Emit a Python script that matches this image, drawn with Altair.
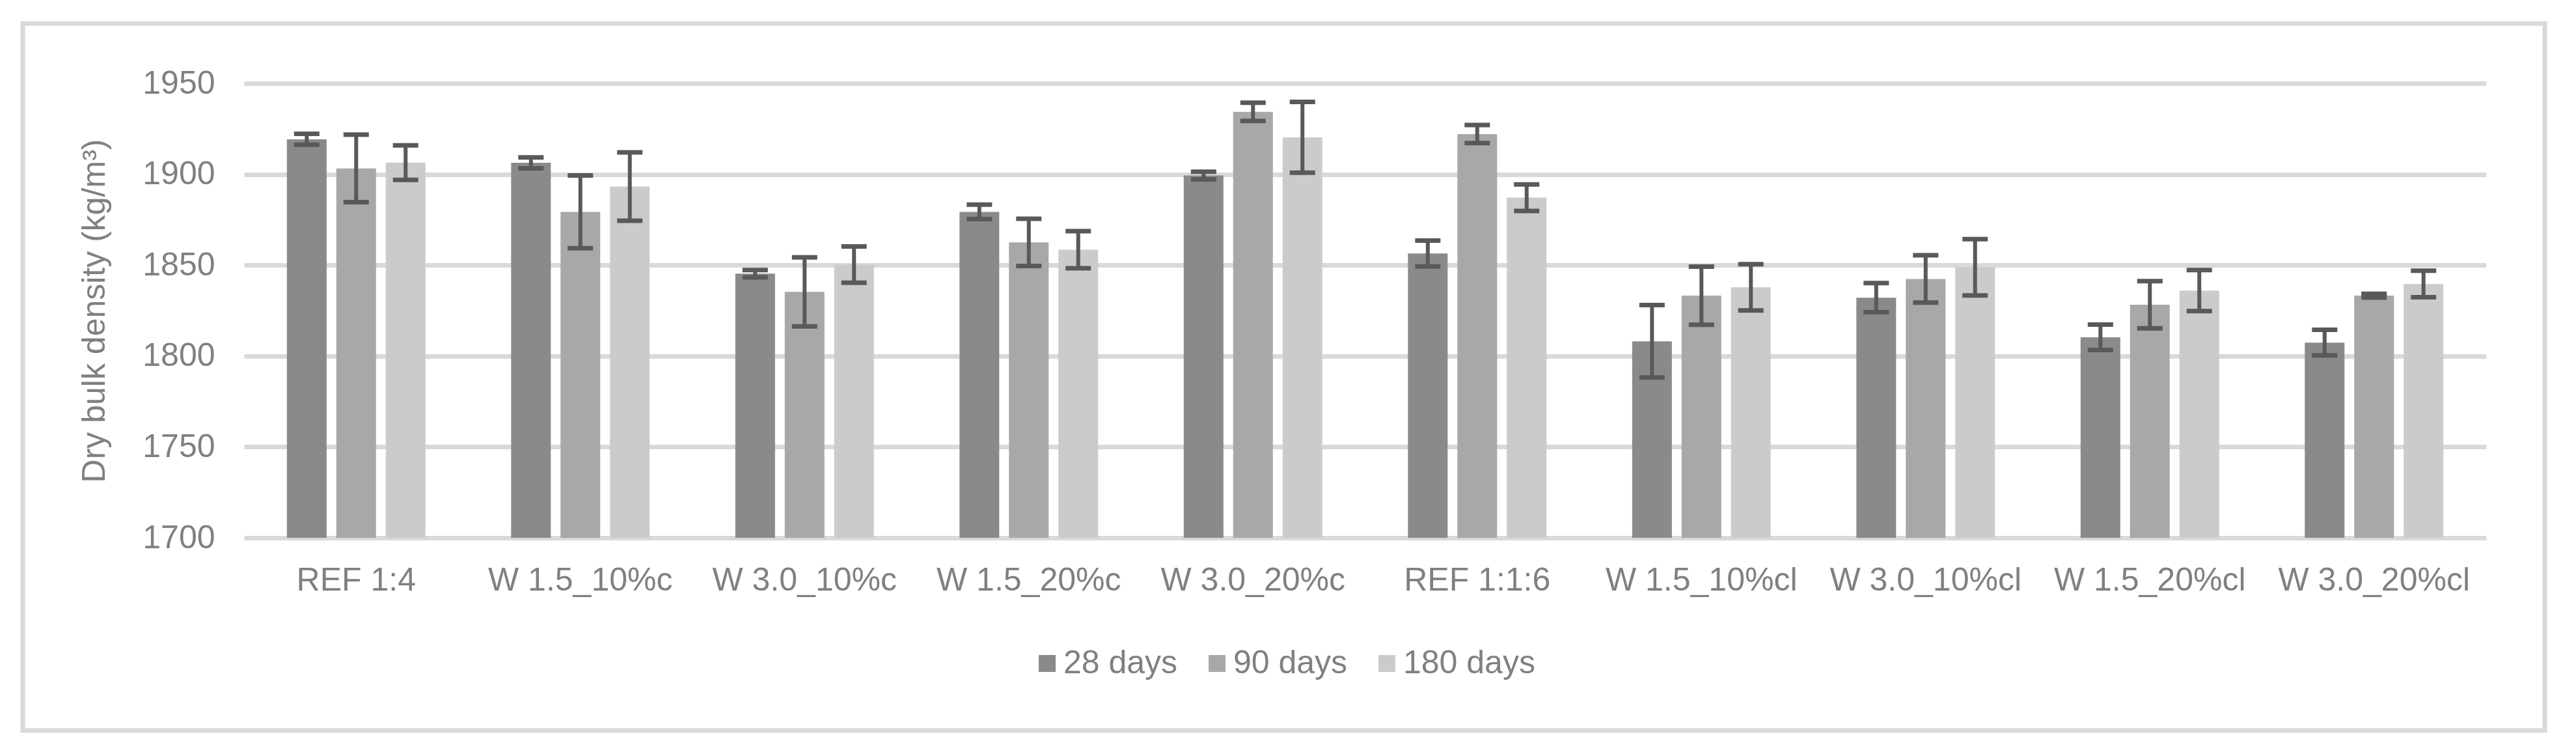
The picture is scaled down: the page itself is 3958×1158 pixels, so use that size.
import altair as alt
import pandas as pd

groups = ["REF 1:4", "W 1.5_10%c", "W 3.0_10%c", "W 1.5_20%c", "W 3.0_20%c",
          "REF 1:1:6", "W 1.5_10%cl", "W 3.0_10%cl", "W 1.5_20%cl", "W 3.0_20%cl"]
ages = ["28 days", "90 days", "180 days"]

mean_28 = [1919.2, 1906.3, 1845.3, 1879.3, 1899.3, 1856.4, 1808.1, 1832.1, 1810.3, 1807.4]
mean_90 = [1903.2, 1879.3, 1835.3, 1862.5, 1934.3, 1922.1, 1833.2, 1842.4, 1828.2, 1833.2]
mean_180 = [1906.4, 1893.2, 1850.3, 1858.5, 1920.3, 1887.1, 1837.8, 1848.8, 1836.0, 1839.6]

sd_28 = [3.0, 3.0, 2.0, 4.0, 2.1, 7.1, 19.9, 8.0, 7.0, 7.0]
sd_90 = [18.6, 20.0, 19.0, 13.0, 5.0, 5.0, 16.0, 13.0, 13.0, 1.0]
sd_180 = [9.5, 18.8, 10.0, 10.2, 19.5, 7.3, 12.7, 15.5, 11.3, 7.3]

colors = ["#8a8a8a", "#a8a8a8", "#cbcbcb"]

rows = []
for age, means, sds in zip(ages, [mean_28, mean_90, mean_180], [sd_28, sd_90, sd_180]):
    for g, m, s in zip(groups, means, sds):
        rows.append({"group": g, "age": age, "mean": m, "lo": m - s, "hi": m + s})
df = pd.DataFrame(rows)

FONT = "Liberation Sans"
TXT = "#808080"

x_enc = alt.X(
    "group:N", sort=groups,
    scale=alt.Scale(paddingInner=0.382, paddingOuter=0.191),
    axis=alt.Axis(title=None, labelFontSize=50, labelColor=TXT, labelFont=FONT,
                  labelAngle=0, ticks=False, tickSize=0, domain=False,
                  labelPadding=40, labelBaseline="top", labelLimit=0),
)
xo_enc = alt.XOffset("age:N", sort=ages, scale=alt.Scale(paddingInner=0.197, paddingOuter=0))

y_scale = alt.Scale(domain=[1700, 1950], nice=False, zero=False)

bars = alt.Chart(df).mark_bar().encode(
    x=x_enc,
    xOffset=xo_enc,
    y=alt.Y("mean:Q", scale=y_scale,
            axis=alt.Axis(values=[1700, 1750, 1800, 1850, 1900, 1950], format="d",
                          title="Dry bulk density (kg/m³)",
                          titleFontSize=50, titleFont=FONT, titleColor=TXT,
                          titleFontWeight="normal",
                          titleAngle=-90, titleX=-215, titleY=349,
                          titleBaseline="alphabetic", titleAlign="center",
                          titleLimit=0,
                          labelFontSize=50, labelFont=FONT, labelColor=TXT,
                          labelPadding=45, ticks=False, tickSize=0, domain=False,
                          labelLimit=0,
                          grid=True, gridColor="#d9d9d9", gridWidth=7)),
    y2=alt.datum(1700),
    color=alt.Color("age:N", sort=ages,
                    scale=alt.Scale(domain=ages, range=colors),
                    legend=alt.Legend(orient="none", legendX=1209, legendY=866,
                                      direction="horizontal", title=None,
                                      symbolType="square", symbolSize=676,
                                      symbolStrokeWidth=0, labelFontSize=50,
                                      labelColor=TXT, labelFont=FONT,
                                      columnPadding=35, labelOffset=0,
                                      labelLimit=0,
                                      padding=0, symbolOpacity=1)),
)

err = alt.Chart(df).mark_rule(color="#595959", strokeWidth=6).encode(
    x=alt.X("group:N", sort=groups),
    xOffset=alt.XOffset("age:N", sort=ages),
    y=alt.Y("lo:Q", scale=y_scale),
    y2="hi:Q",
)
cap_lo = alt.Chart(df).mark_tick(color="#595959", thickness=7, size=39, opacity=1).encode(
    x=alt.X("group:N", sort=groups),
    xOffset=alt.XOffset("age:N", sort=ages),
    y=alt.Y("lo:Q", scale=y_scale),
)
cap_hi = alt.Chart(df).mark_tick(color="#595959", thickness=7, size=39, opacity=1).encode(
    x=alt.X("group:N", sort=groups),
    xOffset=alt.XOffset("age:N", sort=ages),
    y=alt.Y("hi:Q", scale=y_scale),
)

frame = alt.Chart(pd.DataFrame({"k": [0]})).mark_rect(
    fillOpacity=0, stroke="#d9d9d9", strokeWidth=7
).encode(
    x=alt.value(-340), x2=alt.value(3535), y=alt.value(-92), y2=alt.value(994)
)

chart = alt.layer(frame, bars, err, cap_lo, cap_hi).properties(
    width=3445, height=698,
    autosize=alt.AutoSizeParams(type="none"),
    padding={"left": 367, "top": 120, "right": 120, "bottom": 310},
    background="white",
).configure_view(strokeWidth=0)

chart.save("out.html", embed_options={"renderer": "svg", "actions": False})
